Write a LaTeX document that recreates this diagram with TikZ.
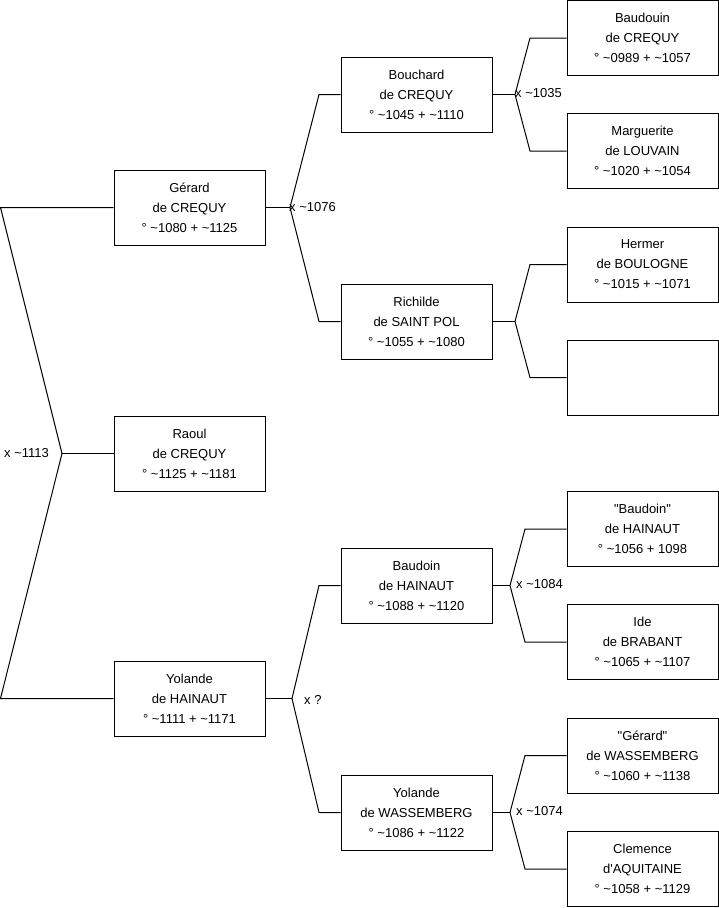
\documentclass[tikz,border=0pt]{standalone}
\usepackage{fontspec}
\setmainfont{Liberation Sans}
\begin{document}
\begin{tikzpicture}[x=1pt,y=-1pt,
  person/.style={draw=black, line width=1pt, fill=white, minimum width=151pt, minimum height=75pt, inner sep=0pt, align=center, font=\fontsize{13}{20}\selectfont},
  link/.style={draw=black, line width=1pt},
  lbl/.style={anchor=west, inner sep=0pt, font=\fontsize{13}{16}\selectfont}]
\useasboundingbox (0,0) rectangle (719,908);
% boxes
\node[person] (gerard) at (189.5,207.5) {Gérard\\de CREQUY\\° \textasciitilde1080 + \textasciitilde1125};
\node[person] (raoul) at (189.5,453.5) {Raoul\\de CREQUY\\° \textasciitilde1125 + \textasciitilde1181};
\node[person] (yolandeH) at (189.5,698.5) {Yolande\\de HAINAUT\\° \textasciitilde1111 + \textasciitilde1171};
\node[person] (bouchard) at (416.5,94.5) {Bouchard\\de CREQUY\\° \textasciitilde1045 + \textasciitilde1110};
\node[person] (richilde) at (416.5,321.5) {Richilde\\de SAINT POL\\° \textasciitilde1055 + \textasciitilde1080};
\node[person] (baudoinH) at (416.5,585.5) {Baudoin\\de HAINAUT\\° \textasciitilde1088 + \textasciitilde1120};
\node[person] (yolandeW) at (416.5,812.5) {Yolande\\de WASSEMBERG\\° \textasciitilde1086 + \textasciitilde1122};
\node[person] (baudouinC) at (642.5,38) {Baudouin\\de CREQUY\\° \textasciitilde0989 + \textasciitilde1057};
\node[person] (marguerite) at (642.5,151) {Marguerite\\de LOUVAIN\\° \textasciitilde1020 + \textasciitilde1054};
\node[person] (hermer) at (642.5,264.5) {Hermer\\de BOULOGNE\\° \textasciitilde1015 + \textasciitilde1071};
\node[person] (empty) at (642.5,377.5) {};
\node[person] (baudoinQ) at (642.5,529) {\textquotedbl Baudoin\textquotedbl\\de HAINAUT\\° \textasciitilde1056 + 1098};
\node[person] (ide) at (642.5,642) {Ide\\de BRABANT\\° \textasciitilde1065 + \textasciitilde1107};
\node[person] (gerardQ) at (642.5,755.5) {\textquotedbl Gérard\textquotedbl\\de WASSEMBERG\\° \textasciitilde1060 + \textasciitilde1138};
\node[person] (clemence) at (642.5,869) {Clemence\\d\textquotesingle AQUITAINE\\° \textasciitilde1058 + \textasciitilde1129};
% level 0
\coordinate (j0) at (62,453.5);
\coordinate (a0) at (0.5,207.5);
\coordinate (b0) at (0.5,698.5);
\draw[link] (gerard.west) -- (a0) -- (j0) -- (b0) -- (yolandeH.west);
\draw[link] (j0) -- (raoul.west);
\node[lbl] (m0) at (4,453.5) {x \textasciitilde1113};
% level 1 top
\coordinate (j1) at (290,207.5);
\coordinate (a1) at (319,94.5);
\coordinate (b1) at (319,321.5);
\draw[link] (gerard.east) -- (j1);
\draw[link] (bouchard.west) -- (a1) -- (j1) -- (b1) -- (richilde.west);
\node[lbl] (m1) at (289,207.5) {x \textasciitilde1076};
% level 1 bottom
\coordinate (j2) at (292,698.5);
\coordinate (a2) at (319,585.5);
\coordinate (b2) at (319,812.5);
\draw[link] (yolandeH.east) -- (j2);
\draw[link] (baudoinH.west) -- (a2) -- (j2) -- (b2) -- (yolandeW.west);
\node[lbl] (m2) at (304,699.5) {x ?};
% level 2
\coordinate (j3) at (515,94.5);
\coordinate (a3) at (530,38);
\coordinate (b3) at (530,151);
\draw[link] (bouchard.east) -- (j3);
\draw[link] (baudouinC.west) -- (a3) -- (j3) -- (b3) -- (marguerite.west);
\node[lbl] (m3) at (515,93) {x \textasciitilde1035};
\coordinate (j4) at (515,321.5);
\coordinate (a4) at (530,264.5);
\coordinate (b4) at (530,377.5);
\draw[link] (richilde.east) -- (j4);
\draw[link] (hermer.west) -- (a4) -- (j4) -- (b4) -- (empty.west);
\coordinate (j5) at (510,585.5);
\coordinate (a5) at (525,529);
\coordinate (b5) at (525,642);
\draw[link] (baudoinH.east) -- (j5);
\draw[link] (baudoinQ.west) -- (a5) -- (j5) -- (b5) -- (ide.west);
\node[lbl] (m5) at (516,584) {x \textasciitilde1084};
\coordinate (j6) at (510,812.5);
\coordinate (a6) at (525,755.5);
\coordinate (b6) at (525,869);
\draw[link] (yolandeW.east) -- (j6);
\draw[link] (gerardQ.west) -- (a6) -- (j6) -- (b6) -- (clemence.west);
\node[lbl] (m6) at (516,811) {x \textasciitilde1074};
\end{tikzpicture}
\end{document}
